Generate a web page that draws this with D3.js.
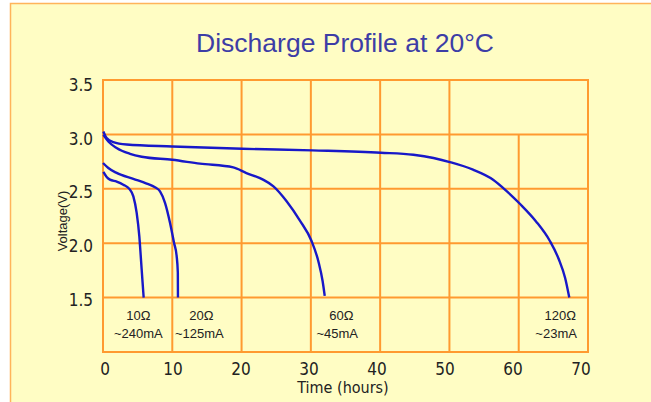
<!DOCTYPE html>
<html>
<head>
<meta charset="utf-8">
<script src="https://cdn.jsdelivr.net/npm/d3@7"></script>
<style>
  html, body { margin: 0; padding: 0; background: #ffffff; }
  svg { display: block; }
</style>
</head>
<body>
<svg id="chart" width="651" height="402"></svg>
<script>
// ---- data ----
const titleText = "Discharge Profile at 20°C";
const xTicks = [0, 10, 20, 30, 40, 50, 60, 70];
const yTicks = [1.5, 2.0, 2.5, 3.0, 3.5];
const xLabel = "Time (hours)";
const yLabel = "Voltage(V)";

const loadOhm = ["10Ω", "20Ω", "60Ω", "120Ω"];
const loadCurrent = ["~240mA", "~125mA", "~45mA", "~23mA"];
const ohmAt = [5.1, 14.2, 34.4, 66.0];
const currentAt = [5.1, 13.9, 33.8, 65.4];

// [hours, volts]
const curve10 = [[0.05,2.655],[0.53,2.609],[1.0,2.584],[1.97,2.566],[2.93,2.538],[3.8,2.499],[4.38,2.431],[4.86,2.279],[5.24,2.065],[5.48,1.852],[5.68,1.668],[5.87,1.50]];
const curve20 = [[0.0,2.737],[0.77,2.691],[1.97,2.646],[4.38,2.591],[6.3,2.548],[7.5,2.514],[8.23,2.477],[8.95,2.371],[9.67,2.188],[10.25,2.004],[10.63,1.882],[10.8,1.73],[10.82,1.50]];
const curve60 = [[0.05,2.996],[0.77,2.935],[1.97,2.875],[3.9,2.822],[5.58,2.795],[10,2.767],[14.0,2.731],[18.8,2.697],[20.7,2.645],[23.1,2.584],[24.6,2.523],[26.5,2.386],[28.4,2.21],[30.1,2.02],[31.1,1.83],[31.7,1.65],[32.0,1.516]];
const curve120 = [[0.05,3.027],[0.53,2.966],[1.49,2.929],[3.42,2.907],[10,2.889],[20.1,2.868],[30.2,2.853],[40.1,2.832],[44.8,2.813],[47.7,2.783],[50.2,2.743],[53.4,2.676],[56.3,2.584],[58.3,2.477],[60.2,2.36],[62.5,2.2],[64.5,2.02],[65.8,1.85],[66.7,1.68],[67.3,1.50]];
const curves = [curve10, curve20, curve60, curve120];

// ---- drawing ----
const svg = d3.select("#chart");
const orange = "#ff9a30";
const blue = "#1818c8";

svg.append("rect")
  .attr("x", 10.5).attr("y", 3.5)
  .attr("width", 700).attr("height", 500)
  .attr("fill", "#fffdc4")
  .attr("stroke", "#ffb45a").attr("stroke-width", 1.5);

const x = d3.scaleLinear().domain([0, 70]).range([103, 588]);
const y = d3.scaleLinear().domain([1.0, 3.5]).range([352, 80]);
const xLab = d3.scaleLinear().domain([0, 70]).range([105, 581]);
const yLab = d3.scaleLinear().domain([1.5, 3.5]).range([300, 85]);

svg.append("text")
  .attr("x", 345).attr("y", 52)
  .attr("text-anchor", "middle")
  .attr("font-family", "Liberation Sans, Arial, sans-serif")
  .attr("font-size", 26.5)
  .attr("fill", "#3d3da6")
  .text(titleText);

const grid = svg.append("g").attr("stroke", orange).attr("stroke-width", 2).attr("fill", "none");

grid.selectAll("line.h")
  .data(yTicks.filter(v => v < 3.5))
  .join("line")
  .attr("class", "h")
  .attr("x1", x(0)).attr("x2", x(70))
  .attr("y1", d => y(d)).attr("y2", d => y(d));

grid.selectAll("line.v")
  .data(xTicks.filter(t => t > 0 && t < 70))
  .join("line")
  .attr("class", "v")
  .attr("x1", d => x(d)).attr("x2", d => x(d))
  .attr("y1", d => d === 60 ? y(3.0) : y(3.5))
  .attr("y2", y(1.0));

grid.append("rect")
  .attr("x", x(0)).attr("y", y(3.5))
  .attr("width", x(70) - x(0)).attr("height", y(1.0) - y(3.5));

const line = d3.line()
  .x(d => x(d[0])).y(d => y(d[1]))
  .curve(d3.curveMonotoneX);

svg.append("g").selectAll("path")
  .data(curves)
  .join("path")
  .attr("d", line)
  .attr("fill", "none")
  .attr("stroke", blue)
  .attr("stroke-width", 2.4)
  .attr("stroke-linecap", "butt");

const tickFont = "Liberation Sans Narrow, DejaVu Sans Condensed, Arial Narrow, sans-serif";
svg.append("g").selectAll("text")
  .data(yTicks)
  .join("text")
  .attr("x", 93)
  .attr("y", d => yLab(d))
  .attr("dy", "0.35em")
  .attr("text-anchor", "end")
  .attr("font-family", tickFont)
  .attr("font-size", 17)
  .attr("fill", "#222")
  .text(d => d.toFixed(1));

svg.append("g").selectAll("text")
  .data(xTicks)
  .join("text")
  .attr("x", d => xLab(d))
  .attr("y", 375)
  .attr("text-anchor", "middle")
  .attr("font-family", tickFont)
  .attr("font-size", 17)
  .attr("fill", "#222")
  .text(d => d);

svg.append("text")
  .attr("x", 343).attr("y", 393)
  .attr("text-anchor", "middle")
  .attr("font-family", tickFont)
  .attr("font-size", 16)
  .attr("fill", "#222")
  .text(xLabel);

svg.append("text")
  .attr("transform", "translate(67,221) rotate(-90)")
  .attr("text-anchor", "middle")
  .attr("font-family", "Liberation Sans, Arial, sans-serif")
  .attr("font-size", 13)
  .attr("fill", "#222")
  .text(yLabel);

const ann = svg.append("g")
  .attr("font-family", "Liberation Sans, Arial, sans-serif")
  .attr("font-size", 13)
  .attr("fill", "#222")
  .attr("text-anchor", "middle");

ann.selectAll("text.ohm")
  .data(loadOhm)
  .join("text")
  .attr("class", "ohm")
  .attr("x", (d, i) => x(ohmAt[i]))
  .attr("y", y(1.5) + 22)
  .text(d => d);

ann.selectAll("text.cur")
  .data(loadCurrent)
  .join("text")
  .attr("class", "cur")
  .attr("x", (d, i) => x(currentAt[i]))
  .attr("y", y(1.5) + 40.5)
  .text(d => d);
</script>
</body>
</html>
